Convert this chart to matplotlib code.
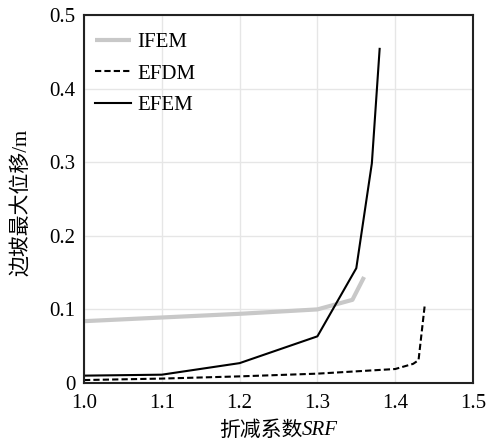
import matplotlib
matplotlib.use("Agg")
import matplotlib.pyplot as plt

plt.rcParams['font.family'] = ['Liberation Serif', 'Noto Sans CJK SC', 'DejaVu Sans']

ifem_x = [1.0, 1.1, 1.2, 1.3, 1.345, 1.36]
ifem_y = [0.084, 0.089, 0.094, 0.100, 0.113, 0.144]
efdm_x = [1.0, 1.1, 1.2, 1.3, 1.4, 1.423, 1.430, 1.438]
efdm_y = [0.004, 0.006, 0.009, 0.0127, 0.019, 0.026, 0.031, 0.106]
efem_x = [1.0, 1.1, 1.2, 1.3, 1.35, 1.37, 1.38]
efem_y = [0.010, 0.0113, 0.027, 0.0634, 0.156, 0.2985, 0.454]
xticks = [1.0, 1.1, 1.2, 1.3, 1.4, 1.5]
xtick_labels = ['1.0', '1.1', '1.2', '1.3', '1.4', '1.5']
yticks = [0, 0.1, 0.2, 0.3, 0.4, 0.5]
ytick_labels = ['0', '0.1', '0.2', '0.3', '0.4', '0.5']

W, H = 494, 440
fig = plt.figure(figsize=(W/100, H/100), dpi=100)
ax = fig.add_axes([84/W, 1-383/H, (473-84)/W, (383-15)/H])

ax.plot(ifem_x, ifem_y, color='#c8c8c8', lw=3, label='IFEM', solid_capstyle='butt')
ax.plot(efdm_x, efdm_y, color='black', lw=1.5, ls=(0, (3, 1.5)), label='EFDM')
ax.plot(efem_x, efem_y, color='black', lw=1.5, label='EFEM')

ax.set_xlim(1.0, 1.5)
ax.set_ylim(0, 0.5)
ax.set_xticks(xticks)
ax.set_xticklabels(xtick_labels)
ax.set_yticks(yticks)
ax.set_yticklabels(ytick_labels)
ax.tick_params(length=0, labelsize=15)
ax.tick_params(axis='y', pad=6)
ax.tick_params(axis='x', pad=8)
ax.grid(True, color='#e6e6e6', lw=1)
ax.set_axisbelow(True)
for s in ax.spines.values():
    s.set_linewidth(1.5)
    s.set_color('#222222')

# y label
fig.text(21/W, 1-202/H, '边坡最大位移/m', rotation=90, ha='center', va='center',
         fontsize=15, family=['Liberation Serif', 'Noto Sans CJK SC'])

# x label: Chinese part + italic SRF, centered as a group
t1 = fig.text(0, 1-430/H, '折减系数', ha='left', va='center', fontsize=15,
              family=['Noto Sans CJK SC'])
t2 = fig.text(0, 1-430/H, 'SRF', ha='left', va='center', fontsize=15,
              family=['Liberation Serif'], style='italic')
r = fig.canvas.get_renderer()
w1 = t1.get_window_extent(r).width
w2 = t2.get_window_extent(r).width
cx = (84 + 473) / 2
x0 = cx - (w1 + w2) / 2
t1.set_x(x0 / W)
t2.set_x((x0 + w1) / W)

leg = ax.legend(loc='upper left', frameon=False, fontsize=15, handlelength=1.7,
                handletextpad=0.3, labelspacing=0.58, borderaxespad=0.0,
                bbox_to_anchor=(3/389, 1-9/368))

fig.savefig('out.png', dpi=100)
